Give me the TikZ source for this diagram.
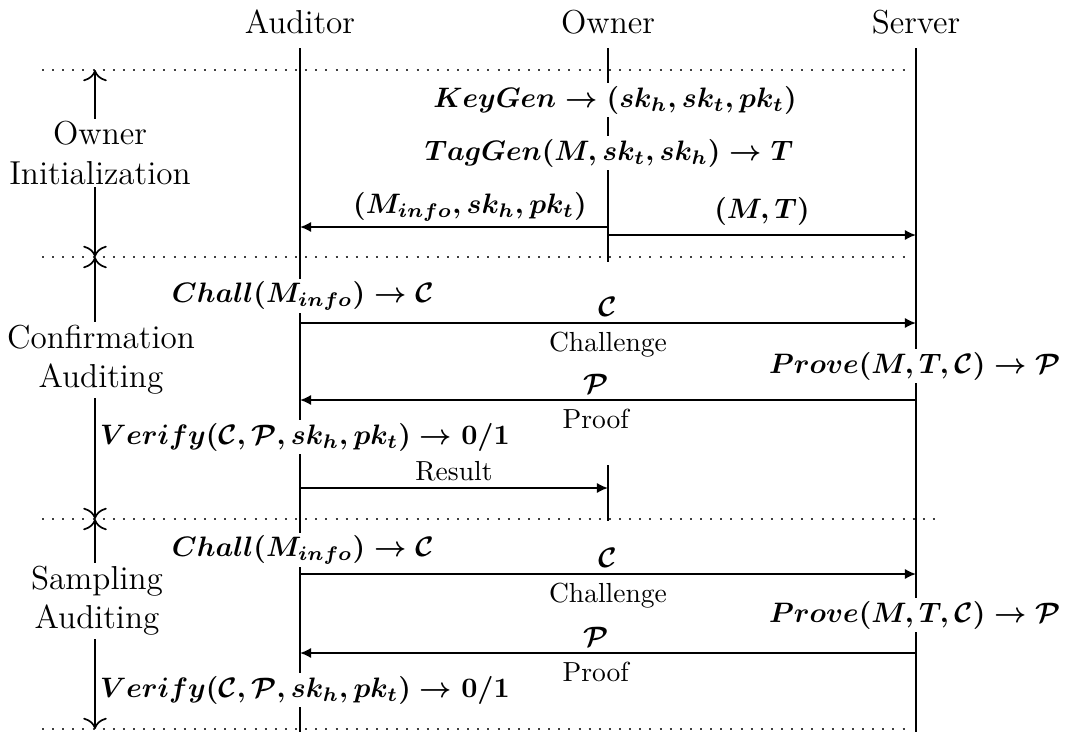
\documentclass[tikz,border=0pt]{standalone}
\usepackage{amsmath,bm}
\usetikzlibrary{arrows.meta,positioning}

\tikzset{
  actor/.style={font=\fontsize{11.8}{14}\selectfont},
  lifeline/.style={line width=0.9pt},
  msg/.style={line width=0.7pt, -{Latex[length=1.4mm,width=1.3mm]}},
  phase/.style={line width=0.6pt, {To[length=1.4mm]}-{To[length=1.4mm]}},
  sepline/.style={line width=0.7pt, dash pattern=on 0.7pt off 2.9pt, black!75},
  ops/.style={font=\fontsize{10.2}{12}\selectfont\boldmath, fill=white, inner sep=1pt},
  datalbl/.style={font=\fontsize{10.2}{12}\selectfont\boldmath, inner sep=1pt},
  tag/.style={font=\fontsize{9.8}{11}\selectfont, inner sep=1pt},
  phaselbl/.style={font=\fontsize{11.8}{14}\selectfont, align=center, fill=white, inner sep=1pt}
}

\begin{document}
\begin{tikzpicture}[x=0.0125cm, y=-0.0125cm]
\useasboundingbox (0,0) rectangle (1067,732);

% phase separators
\foreach \y/\xe in {70/910, 257/910, 519/940, 729/910} {
  \draw[sepline] (42,\y) -- (\xe,\y);
}

% actors and lifelines
\node[actor] (aud) at (300,22) {Auditor};
\node[actor] (own) at (608,22) {Owner};
\node[actor] (srv) at (916,22) {Server};
\coordinate (audTop) at (300,48);
\coordinate (audBot) at (300,732);
\coordinate (ownTop) at (608,48);
\coordinate (ownBot) at (608,262);
\coordinate (srvTop) at (916,48);
\coordinate (srvBot) at (916,732);
\coordinate (resTop) at (608,465);
\coordinate (resBot) at (608,521);
\draw[lifeline] (audTop) -- (audBot);
\draw[lifeline] (ownTop) -- (ownBot);
\draw[lifeline] (srvTop) -- (srvBot);
\draw[lifeline] (resTop) -- (resBot);

% phase arrows
\coordinate (b0) at (95,70);
\coordinate (b1) at (95,257);
\coordinate (b2) at (95,519);
\coordinate (b3) at (95,729);
\draw[phase] (b0) -- (b1);
\draw[phase] (b1) -- (b2);
\draw[phase] (b2) -- (b3);
\node[phaselbl] (ph1) at (100,153) {Owner\\Initialization};
\node[phaselbl] (ph2) at (101,360) {Confirmation\\Auditing};
\node[phaselbl] (ph3) at (97,601) {Sampling\\Auditing};

% message rows
\coordinate (rInfo) at (0,227);
\coordinate (rFile) at (0,235);
\coordinate (rCh1) at (0,323);
\coordinate (rPr1) at (0,400);
\coordinate (rRes) at (0,488);
\coordinate (rCh2) at (0,574);
\coordinate (rPr2) at (0,653);

% owner initialization
\node[ops] (keygen) at (615,100) {$KeyGen \rightarrow (sk_h, sk_t, pk_t)$};
\node[ops] (taggen) at (609,153) {$TagGen(M, sk_t, sk_h) \rightarrow T$};
\draw[msg] (own |- rInfo) -- (aud |- rInfo);
\node[datalbl] (info) at (470,207) {$(M_{info}, sk_h, pk_t)$};
\draw[msg] (own |- rFile) -- (srv |- rFile)
  node[datalbl, midway, above=2pt] (file) {$(M, T)$};

% confirmation auditing
\node[ops] (chall1) at (303,296) {$Chall(M_{info}) \rightarrow \mathcal{C}$};
\draw[msg] (aud |- rCh1) -- (srv |- rCh1)
  node[datalbl, midway, above=1pt] (c1) {$\mathcal{C}$}
  node[tag, midway, below=2pt] (chl1) {Challenge};
\node[ops] (prove1) at (915,366) {$Prove(M, T, \mathcal{C}) \rightarrow \mathcal{P}$};
\draw[msg] (srv |- rPr1) -- (aud |- rPr1)
  node[datalbl, pos=0.52, above=1pt] (p1) {$\mathcal{P}$}
  node[tag, pos=0.52, below=2pt] (prf1) {Proof};
\node[ops] (verify1) at (305,437) {$Verify(\mathcal{C}, \mathcal{P}, sk_h, pk_t) \rightarrow 0/1$};
\draw[msg] (aud |- rRes) -- (own |- rRes)
  node[tag, midway, above=1pt] (res) {Result};

% sampling auditing
\node[ops] (chall2) at (303,550) {$Chall(M_{info}) \rightarrow \mathcal{C}$};
\draw[msg] (aud |- rCh2) -- (srv |- rCh2)
  node[datalbl, midway, above=1pt] (c2) {$\mathcal{C}$}
  node[tag, midway, below=2pt] (chl2) {Challenge};
\node[ops] (prove2) at (915,615) {$Prove(M, T, \mathcal{C}) \rightarrow \mathcal{P}$};
\draw[msg] (srv |- rPr2) -- (aud |- rPr2)
  node[datalbl, pos=0.52, above=1pt] (p2) {$\mathcal{P}$}
  node[tag, pos=0.52, below=2pt] (prf2) {Proof};
\node[ops] (verify2) at (305,690) {$Verify(\mathcal{C}, \mathcal{P}, sk_h, pk_t) \rightarrow 0/1$};
\end{tikzpicture}
\end{document}
